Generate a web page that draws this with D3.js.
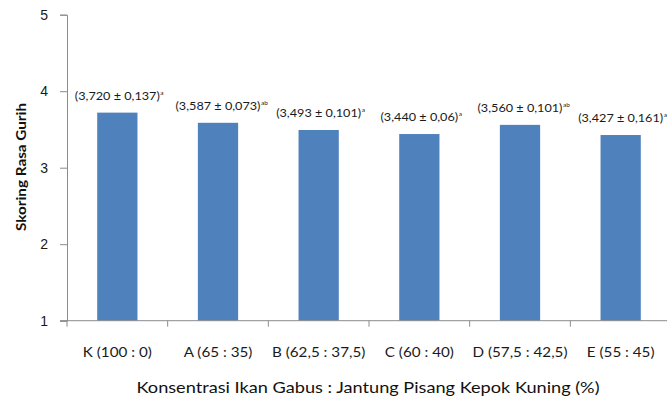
<!DOCTYPE html>
<html>
<head>
<meta charset="utf-8">
<script src="https://cdn.jsdelivr.net/npm/d3@7"></script>
<style>
  html, body { margin: 0; padding: 0; background: #fff; }
  svg { display: block; font-family: Lato, "Noto Sans", sans-serif; }
</style>
</head>
<body>
<svg id="chart" width="667" height="400"></svg>
<script>
// Mean scores of savoury taste per formulation
const categories = ["K (100 : 0)", "A (65 : 35)", "B (62,5 : 37,5)", "C (60 : 40)", "D (57,5 : 42,5)", "E (55 : 45)"];
const means = [3.720, 3.587, 3.493, 3.440, 3.560, 3.427];
const sds = ["0,137", "0,073", "0,101", "0,06", "0,101", "0,161"];
const meanText = ["3,720", "3,587", "3,493", "3,440", "3,560", "3,427"];
const letters = ["a", "ab", "a", "a", "ab", "a"];
const yTicks = [1, 2, 3, 4, 5];

const svg = d3.select("#chart");
const plotLeft = 67, plotRight = 671, plotTop = 14.7, plotBottom = 320.7;

const x = d3.scaleBand().domain(categories).range([plotLeft, plotRight]).paddingInner(0.6).paddingOuter(0.3);
const xb = d3.scaleBand().domain(categories).range([plotLeft, plotRight]);
const y = d3.scaleLinear().domain([1, 5]).range([plotBottom, plotTop]);

const axisColor = "#8c8c8c";
const textColor = "#1a1a1a";

// widen text horizontally by a factor (the labels are set in a wide face)
function widen(sel, factor) {
  sel.each(function () {
    const w = this.getComputedTextLength();
    d3.select(this).attr("textLength", w * factor).attr("lengthAdjust", "spacingAndGlyphs");
  });
}

// bars
svg.append("g").selectAll("rect").data(categories).join("rect")
  .attr("x", d => x(d))
  .attr("width", x.bandwidth())
  .attr("y", (d, i) => y(means[i]))
  .attr("height", (d, i) => y(1) - y(means[i]))
  .attr("fill", "#4f81bd");

// y axis
const yAxis = svg.append("g").attr("transform", `translate(${plotLeft},0)`)
  .call(d3.axisLeft(y).tickValues(yTicks).tickSize(7).tickPadding(12).tickFormat(d3.format("d")));
yAxis.select(".domain").attr("stroke", axisColor);
yAxis.selectAll(".tick line").attr("stroke", axisColor);
yAxis.selectAll(".tick text").attr("font-size", 14).attr("fill", textColor);

// x axis: line with ticks at category boundaries
const xg = svg.append("g");
xg.append("line").attr("x1", plotLeft - 7).attr("x2", 667).attr("y1", plotBottom).attr("y2", plotBottom).attr("stroke", axisColor);
xg.selectAll("line.tk").data(categories).join("line").attr("class", "tk")
  .attr("x1", d => xb(d)).attr("x2", d => xb(d))
  .attr("y1", plotBottom).attr("y2", plotBottom + 6).attr("stroke", axisColor);
const xLabels = xg.selectAll("text").data(categories).join("text")
  .attr("x", d => xb(d) + xb.bandwidth() / 2)
  .attr("y", 357)
  .attr("text-anchor", "middle")
  .attr("font-size", 13)
  .attr("fill", textColor)
  .text(d => d);
widen(xLabels, 1.17);

// value labels: mean ± sd with significance letters
const labG = svg.append("g");
categories.forEach((c, i) => {
  const cx = xb(c) + xb.bandwidth() / 2;
  const ty = y(means[i]) - 13;
  const t = labG.append("text")
    .attr("x", cx).attr("y", ty)
    .attr("text-anchor", "middle")
    .attr("font-size", 11.5)
    .attr("fill", textColor)
    .text(`(${meanText[i]} ± ${sds[i]})`);
  widen(t, 1.1);
  const half = +t.attr("textLength") / 2;
  labG.append("text")
    .attr("x", cx + half + 0.5).attr("y", ty - 5)
    .attr("font-size", 6.5)
    .attr("fill", textColor)
    .text(letters[i]);
});

// axis titles
const yTitle = svg.append("text")
  .attr("transform", "translate(26,167) rotate(-90)")
  .attr("text-anchor", "middle")
  .attr("font-size", 13.5)
  .attr("font-weight", "bold")
  .attr("fill", "#111")
  .text("Skoring Rasa Gurih");
widen(yTitle, 1.13);

const xTitle = svg.append("text")
  .attr("x", 368).attr("y", 393)
  .attr("text-anchor", "middle")
  .attr("font-size", 15)
  .attr("fill", "#111")
  .text("Konsentrasi Ikan Gabus : Jantung Pisang Kepok Kuning (%)");
widen(xTitle, 1.21);
</script>
</body>
</html>
